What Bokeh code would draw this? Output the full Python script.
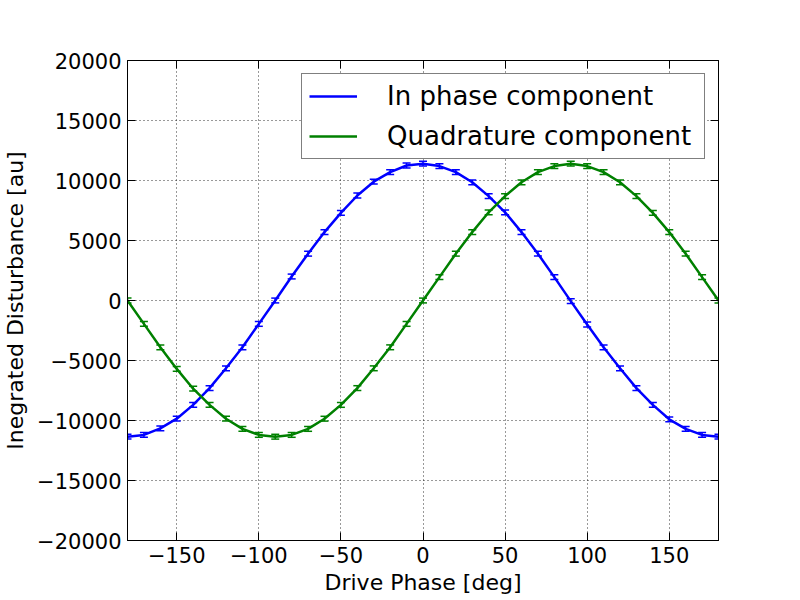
from bokeh.plotting import figure
from bokeh.models import (ColumnDataSource, Whisker, TeeHead, LinearAxis, Range1d,
                          FixedTicker, Legend, LegendItem)
from bokeh.embed import file_html
from bokeh.resources import INLINE

# ---------------- data ----------------
phase = [-180, -170, -160, -150, -140, -130, -120, -110, -100, -90, -80, -70, -60,
         -50, -40, -30, -20, -10, 0, 10, 20, 30, 40, 50, 60, 70, 80, 90, 100, 110,
         120, 130, 140, 150, 160, 170, 180]

in_phase = [-11350, -11200, -10650, -9850, -8700, -7300, -5650, -3900, -1950, 0,
            2000, 3900, 5700, 7300, 8750, 9900, 10700, 11250, 11400, 11200, 10700,
            9850, 8700, 7350, 5700, 3900, 1950, -50, -2000, -3900, -5650, -7300,
            -8700, -9900, -10700, -11200, -11350]

quadrature = [0, -1950, -3900, -5700, -7350, -8700, -9850, -10700, -11200, -11350,
              -11200, -10700, -9850, -8700, -7300, -5650, -3900, -1950, 0, 1950,
              3900, 5700, 7350, 8700, 9850, 10700, 11200, 11400, 11200, 10700, 9850,
              8700, 7300, 5700, 3900, 1950, 0]

in_phase_err = [200, 200, 200, 200, 200, 200, 200, 200, 200, 200, 200, 200, 200,
                200, 200, 200, 200, 200, 200, 200, 200, 200, 200, 200, 200, 200,
                200, 200, 200, 200, 200, 200, 200, 200, 200, 200, 200]
quadrature_err = [200, 200, 200, 200, 200, 200, 200, 200, 200, 200, 200, 200, 200,
                  200, 200, 200, 200, 200, 200, 200, 200, 200, 200, 200, 200, 200,
                  200, 200, 200, 200, 200, 200, 200, 200, 200, 200, 200]

x_ticks = [-150, -100, -50, 0, 50, 100, 150]
x_tick_labels = ["\u2212150", "\u2212100", "\u221250", "0", "50", "100", "150"]
y_ticks = [-20000, -15000, -10000, -5000, 0, 5000, 10000, 15000, 20000]
y_tick_labels = ["\u221220000", "\u221215000", "\u221210000", "\u22125000", "0",
                 "5000", "10000", "15000", "20000"]

series_names = ["In phase component", "Quadrature component"]
x_label = "Drive Phase [deg]"
y_label = "Inegrated Disturbance [au]"

# ---------------- figure ----------------
FONT = "DejaVu Sans"
p = figure(width=784, height=592, output_backend="svg", toolbar_location=None,
           x_range=Range1d(-180, 180), y_range=Range1d(-20000, 20000),
           min_border_left=123, min_border_right=70, min_border_top=60,
           min_border_bottom=52, frame_width=591, frame_height=480)
p.background_fill_color = "white"
p.border_fill_color = "white"
p.outline_line_color = "black"
p.outline_line_width = 1

colors = ["#0000ff", "#008000"]
renderers = []
for ys, errs, col in [(in_phase, in_phase_err, colors[0]),
                      (quadrature, quadrature_err, colors[1])]:
    src = ColumnDataSource(dict(x=phase, y=ys,
                                upper=[a + b for a, b in zip(ys, errs)],
                                lower=[a - b for a, b in zip(ys, errs)]))
    r = p.line("x", "y", source=src, line_color=col, line_width=2.5)
    renderers.append(r)
    w = Whisker(base="x", upper="upper", lower="lower", source=src,
                line_color=col, line_width=1.5,
                upper_head=TeeHead(size=8, line_color=col, line_width=1.5),
                lower_head=TeeHead(size=8, line_color=col, line_width=1.5))
    p.add_layout(w)

# axes
def style_axis(ax):
    ax.axis_line_color = "black"
    ax.major_tick_in = 8
    ax.major_tick_out = 0
    ax.minor_tick_in = 0
    ax.minor_tick_out = 0
    ax.major_tick_line_color = "black"
    ax.major_label_text_font = FONT
    ax.major_label_text_font_size = "21px"
    ax.major_label_text_color = "black"
    ax.axis_label_text_font = FONT
    ax.axis_label_text_font_size = "22px"
    ax.axis_label_text_font_style = "normal"
    ax.axis_label_text_color = "black"

xa = p.xaxis[0]
xa.ticker = FixedTicker(ticks=x_ticks)
xa.major_label_overrides = dict(zip(x_ticks, x_tick_labels))
xa.axis_label = x_label
style_axis(xa)
xa.major_label_standoff = 6
xa.axis_label_standoff = 4

ya = p.yaxis[0]
ya.ticker = FixedTicker(ticks=y_ticks)
ya.major_label_overrides = dict(zip(y_ticks, y_tick_labels))
ya.axis_label = y_label
style_axis(ya)
ya.major_label_standoff = 6
ya.axis_label_standoff = 6

top = LinearAxis(ticker=FixedTicker(ticks=x_ticks),
                 major_label_overrides={t: "" for t in x_ticks})
style_axis(top)
p.add_layout(top, "above")
right = LinearAxis(ticker=FixedTicker(ticks=y_ticks),
                   major_label_overrides={t: "" for t in y_ticks})
style_axis(right)
p.add_layout(right, "right")

# grid
for g in (p.xgrid[0], p.ygrid[0]):
    g.grid_line_color = "black"
    g.grid_line_dash = "1 3"
    g.grid_line_width = 1
    g.grid_line_alpha = 0.8
p.xgrid[0].ticker = FixedTicker(ticks=x_ticks)
p.ygrid[0].ticker = FixedTicker(ticks=y_ticks)

# legend
legend = Legend(items=[LegendItem(label=series_names[0], renderers=[renderers[0]]),
                       LegendItem(label=series_names[1], renderers=[renderers[1]])],
                location="top_right")
legend.label_text_font = FONT
legend.label_text_font_size = "26px"
legend.label_text_color = "black"
legend.glyph_width = 48
legend.glyph_height = 30
legend.label_standoff = 30
legend.label_width = 310
legend.padding = 7
legend.spacing = 10
legend.margin = 13
legend.border_line_color = "black"
legend.border_line_width = 1
legend.background_fill_color = "white"
legend.background_fill_alpha = 1
p.add_layout(legend)

open("out.html", "w").write(file_html(p, INLINE))
